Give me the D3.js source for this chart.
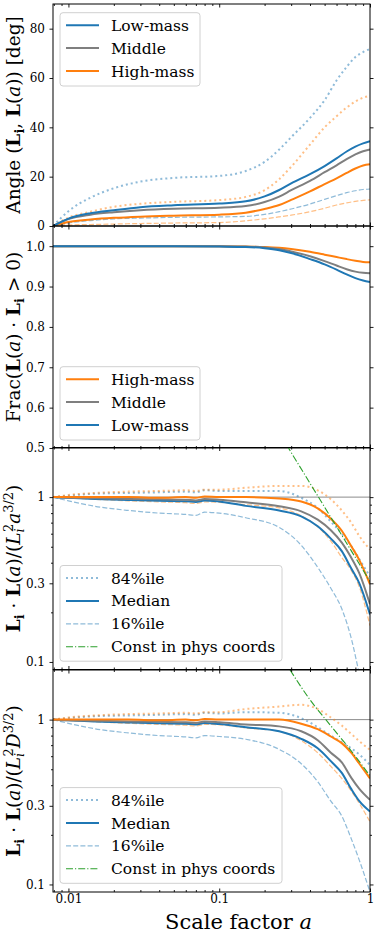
<!DOCTYPE html>
<html>
<head>
<meta charset="utf-8">
<script src="https://cdn.jsdelivr.net/npm/d3@7"></script>
<style>
body { margin: 0; background: #fff; }
text { font-family: "DejaVu Serif", serif; }
</style>
</head>
<body>
<script>
// ---- data ----
// panel 1: angle between L_i and L(a) [deg]
const angleA = [0.0079, 0.01, 0.014, 0.02, 0.03, 0.05, 0.1, 0.15, 0.2, 0.25, 0.3, 0.4, 0.5, 0.6, 0.7, 0.8, 0.9, 1];
const angleLow = [0, 3, 5.2, 6.4, 7.6, 8.4, 9.1, 10, 12, 14.6, 17.3, 21, 24.3, 27.4, 30.2, 32.2, 33.5, 34.4];
const angleMid = [0, 2.8, 4.6, 5.6, 6.4, 7, 7.4, 8.1, 9.7, 11.9, 14.5, 18.3, 21.8, 24.6, 27.1, 29, 30.3, 31];
const angleHigh = [0, 1.6, 2.6, 3.3, 3.8, 4.2, 4.6, 5.4, 6.9, 8.5, 10.6, 14, 17, 19.3, 21.5, 23.3, 24.5, 25];
const angleLow84 = [0, 6, 11.5, 15.3, 18, 19.5, 20.3, 22.3, 26, 31, 36, 43.8, 51, 59, 64.5, 68.5, 70.5, 71.8];
const angleHigh84 = [0, 3.4, 5.8, 7.8, 9, 9.8, 10.5, 11.8, 14.5, 19, 24, 33, 40, 44.5, 48, 50.5, 52, 52.8];
const angleLow16 = [0, 1.2, 2.2, 2.9, 3.2, 3.5, 3.7, 3.9, 4.7, 5.8, 6.9, 8.9, 10.8, 12.3, 13.5, 14.3, 14.8, 15];
const angleHigh16 = [0, 0.4, 0.6, 0.8, 1.0, 1.2, 1.4, 2.1, 2.9, 3.7, 4.4, 5.8, 7.2, 8.5, 9.4, 10.0, 10.4, 10.6];

// panel 2: fraction with positive projection
const fracA = [0.0079, 0.05, 0.1, 0.15, 0.2, 0.25, 0.3, 0.4, 0.5, 0.6, 0.7, 0.8, 0.9, 1];
const fracLow = [1, 1, 0.999, 0.998, 0.995, 0.99, 0.983, 0.968, 0.955, 0.942, 0.93, 0.921, 0.915, 0.911];
const fracMid = [1, 1, 1, 0.999, 0.997, 0.993, 0.987, 0.975, 0.963, 0.952, 0.943, 0.937, 0.934, 0.933];
const fracHigh = [1, 1, 1, 0.999, 0.998, 0.996, 0.993, 0.986, 0.979, 0.973, 0.968, 0.964, 0.961, 0.96];

// panels 3 and 4: normalised projection
const projA = [0.0079, 0.01, 0.015, 0.025, 0.04, 0.06, 0.07, 0.08, 0.1, 0.15, 0.25, 0.35, 0.45, 0.55, 0.65, 0.75, 0.85, 1];
const physLow = [1, 0.99, 0.975, 0.96, 0.95, 0.945, 0.935, 0.955, 0.94, 0.885, 0.83, 0.765, 0.665, 0.56, 0.47, 0.37, 0.3, 0.194];
const physMid = [1, 0.99, 0.985, 0.975, 0.97, 0.965, 0.955, 0.975, 0.965, 0.93, 0.88, 0.82, 0.73, 0.63, 0.53, 0.43, 0.345, 0.224];
const physHigh = [1, 1.0, 1.0, 1.0, 0.99, 1.0, 0.99, 1.01, 1.0, 1.0, 0.98, 0.94, 0.855, 0.74, 0.625, 0.505, 0.415, 0.296];
const physLow84 = [1, 1.02, 1.05, 1.06, 1.07, 1.08, 1.07, 1.1, 1.09, 1.09, 1.09, 0.99, 0.86, 0.71, 0.6, 0.505, 0.42, 0.33];
const physHigh84 = [1, 1.03, 1.06, 1.08, 1.09, 1.1, 1.09, 1.11, 1.11, 1.14, 1.17, 1.17, 1.1, 0.97, 0.83, 0.7, 0.58, 0.48];
const physLow16 = [1, 0.95, 0.88, 0.83, 0.8, 0.785, 0.775, 0.81, 0.8, 0.75, 0.655, 0.51, 0.375, 0.28, 0.21, 0.14, 0.085, 0.05];
const physHigh16 = [1, 0.99, 0.97, 0.95, 0.935, 0.925, 0.915, 0.935, 0.93, 0.9, 0.86, 0.77, 0.66, 0.54, 0.43, 0.36, 0.285, 0.166];
const physConstA = [0.28, 1];
const physConst = [2.07, 0.308];

const comovLow = [1, 0.99, 0.975, 0.96, 0.95, 0.945, 0.935, 0.955, 0.94, 0.9, 0.85, 0.765, 0.67, 0.56, 0.475, 0.38, 0.32, 0.277];
const comovMid = [1, 0.99, 0.985, 0.975, 0.97, 0.965, 0.955, 0.975, 0.965, 0.935, 0.91, 0.85, 0.75, 0.63, 0.55, 0.445, 0.38, 0.326];
const comovHigh = [1, 1.0, 1.0, 1.0, 0.99, 1.0, 0.99, 1.01, 1.0, 1.0, 1.0, 0.945, 0.875, 0.79, 0.72, 0.63, 0.54, 0.44];
const comovLow84 = [1, 1.02, 1.05, 1.06, 1.07, 1.08, 1.07, 1.1, 1.09, 1.11, 1.1, 1.02, 0.9, 0.8, 0.73, 0.67, 0.615, 0.53];
const comovHigh84 = [1, 1.03, 1.06, 1.08, 1.09, 1.1, 1.09, 1.11, 1.11, 1.16, 1.2, 1.23, 1.16, 1.03, 0.92, 0.82, 0.74, 0.655];
const comovLow16 = [1, 0.95, 0.88, 0.83, 0.8, 0.785, 0.775, 0.8, 0.79, 0.76, 0.66, 0.54, 0.42, 0.32, 0.26, 0.19, 0.14, 0.09];
const comovHigh16 = [1, 0.99, 0.97, 0.95, 0.935, 0.925, 0.915, 0.935, 0.93, 0.89, 0.85, 0.745, 0.63, 0.52, 0.44, 0.37, 0.31, 0.24];
const comovConstA = [0.295, 0.4, 0.543, 0.737, 1];
const comovConst = [2.0, 1.32, 0.93, 0.66, 0.456];

const xMajor = [0.01, 0.1, 1];
const xTickLabels = ["0.01", "0.1", "1"];
const angleTicks = [0, 20, 40, 60, 80];
const fracTicks = [0.5, 0.6, 0.7, 0.8, 0.9, 1.0];
const projTicks = [0.1, 0.3, 1];
const projTickLabels = ["0.1", "0.3", "1"];

// ---- layout ----
const W = 374, H = 934;
const left = 53, right = 370;
const tops = [4, 226, 447.5, 670];
const ph = 222;
const blue = "#1f77b4", orange = "#ff7f0e", gray = "#7f7f7f", green = "#2ca02c";

const svg = d3.select("body").append("svg").attr("width", W).attr("height", H);

const x = d3.scaleLog().domain([0.0079, 1]).range([left, right]);
const xMinor = [];
[0.001, 0.01, 0.1].forEach(d => { for (let k = 2; k <= 9; k++) xMinor.push(d * k); });
const xMinorIn = xMinor.filter(v => v >= 0.0079 && v <= 1);

const line = (y, xs, ys) => d3.line()
    .x(d => x(d[0]))
    .y(d => y(d[1]))
    .curve(d3.curveMonotoneX)(xs.map((v, i) => [v, ys[i]]));

const styles = {
    med: { w: 2, dash: null, op: 1 },
    p84: { w: 2, dash: "2,3", op: 0.5 },
    p16: { w: 1.2, dash: "5,2.2", op: 0.5 },
    phys: { w: 1.1, dash: "7,2,1.2,2", op: 1 }
};

function panel(i, y, yMajor, yLabels, yMinor) {
    const top = tops[i];
    const g = svg.append("g");
    g.append("clipPath").attr("id", "clip" + i)
        .append("rect").attr("x", left).attr("y", top).attr("width", right - left).attr("height", ph);
    const plot = g.append("g").attr("clip-path", "url(#clip" + i + ")");

    // x ticks, pointing in, top and bottom
    const bottom = top + ph;
    const xb = d3.axisBottom(x).tickValues(xMajor).tickSizeInner(-3.5).tickSizeOuter(0).tickPadding(2)
        .tickFormat((d, j) => i === 3 ? xTickLabels[j] : "");
    const xbm = d3.axisBottom(x).tickValues(xMinorIn).tickSizeInner(-2).tickSizeOuter(0).tickFormat("");
    const xt = d3.axisTop(x).tickValues(xMajor).tickSizeInner(-3.5).tickSizeOuter(0).tickFormat("");
    const xtm = d3.axisTop(x).tickValues(xMinorIn).tickSizeInner(-2).tickSizeOuter(0).tickFormat("");
    [[xb, bottom], [xbm, bottom], [xt, top], [xtm, top]].forEach(([ax, yy]) => {
        g.append("g").attr("class", "axis").attr("transform", `translate(0,${yy})`).call(ax);
    });

    // y ticks, pointing out, left and right
    const yl = d3.axisLeft(y).tickValues(yMajor).tickSizeInner(3.5).tickSizeOuter(0).tickPadding(4.5)
        .tickFormat((d, j) => yLabels[j]);
    const yr = d3.axisRight(y).tickValues(yMajor).tickSizeInner(3.5).tickSizeOuter(0).tickFormat("");
    g.append("g").attr("class", "axis").attr("transform", `translate(${left},0)`).call(yl);
    g.append("g").attr("class", "axis").attr("transform", `translate(${right},0)`).call(yr);
    if (yMinor) {
        g.append("g").attr("class", "axis").attr("transform", `translate(${left},0)`)
            .call(d3.axisLeft(y).tickValues(yMinor).tickSizeInner(2).tickSizeOuter(0).tickFormat(""));
        g.append("g").attr("class", "axis").attr("transform", `translate(${right},0)`)
            .call(d3.axisRight(y).tickValues(yMinor).tickSizeInner(2).tickSizeOuter(0).tickFormat(""));
    }

    g.append("rect").attr("x", left).attr("y", top).attr("width", right - left).attr("height", ph)
        .attr("fill", "none").attr("stroke", "#000").attr("stroke-width", 1);

    return { plot, g, top, bottom };
}

function addLine(plot, y, xs, ys, color, st) {
    plot.append("path")
        .attr("d", line(y, xs, ys))
        .attr("fill", "none")
        .attr("stroke", color)
        .attr("stroke-width", st.w)
        .attr("stroke-dasharray", st.dash)
        .attr("stroke-opacity", st.op);
}

function legend(x0, y0, w, h, items) {
    const g = svg.append("g");
    g.append("rect").attr("x", x0).attr("y", y0).attr("width", w).attr("height", h)
        .attr("rx", 3).attr("fill", "#fff").attr("fill-opacity", 0.8)
        .attr("stroke", "#d0d0d0").attr("stroke-width", 1);
    items.forEach((it, k) => {
        const cy = y0 + 12.5 + k * 22.9;
        g.append("line").attr("x1", x0 + 6).attr("x2", x0 + 39).attr("y1", cy).attr("y2", cy)
            .attr("stroke", it.color).attr("stroke-width", it.st.w)
            .attr("stroke-dasharray", it.st.dash).attr("stroke-opacity", it.st.op);
        g.append("text").attr("x", x0 + 51).attr("y", cy + 5.5)
            .attr("font-size", 15.5).attr("fill", "#000").text(it.label);
    });
}

// math-ish label: parts are [text, flags] with b=bold, i=italic, _=sub, ^=sup, s=stack over previous sub
function mathLabel(cx, cy, parts, fs) {
    const t = svg.append("text")
        .attr("transform", `translate(${cx},${cy}) rotate(-90)`)
        .attr("text-anchor", "middle").attr("font-size", fs).attr("fill", "#000");
    let shift = 0;
    parts.forEach(([str, f = ""]) => {
        let target = 0, size = fs, dx = 0;
        if (f.includes("_")) { target = fs * 0.22; size = fs * 0.7; }
        if (f.includes("^")) { target = -fs * 0.38; size = fs * 0.7; }
        if (f.includes("s")) dx = -fs * 0.2;
        const sp = t.append("tspan").attr("font-size", size).attr("dy", target - shift).text(str);
        if (dx) sp.attr("dx", dx);
        if (f.includes("b")) sp.attr("font-weight", "bold");
        if (f.includes("i")) sp.attr("font-style", "italic");
        shift = target;
    });
    return t;
}

// ---- panel 1 ----
const y1 = d3.scaleLinear().domain([0, 90]).range([tops[0] + ph, tops[0]]);
const p1 = panel(0, y1, angleTicks, angleTicks.map(String));
addLine(p1.plot, y1, angleA, angleLow84, blue, styles.p84);
addLine(p1.plot, y1, angleA, angleHigh84, orange, styles.p84);
addLine(p1.plot, y1, angleA, angleLow16, blue, styles.p16);
addLine(p1.plot, y1, angleA, angleHigh16, orange, styles.p16);
addLine(p1.plot, y1, angleA, angleHigh, orange, styles.med);
addLine(p1.plot, y1, angleA, angleMid, gray, styles.med);
addLine(p1.plot, y1, angleA, angleLow, blue, styles.med);

// ---- panel 2 ----
const y2 = d3.scaleLinear().domain([0.5, 1.05]).range([tops[1] + ph, tops[1]]);
const p2 = panel(1, y2, fracTicks, fracTicks.map(d => d.toFixed(1)));
addLine(p2.plot, y2, fracA, fracHigh, orange, styles.med);
addLine(p2.plot, y2, fracA, fracMid, gray, styles.med);
addLine(p2.plot, y2, fracA, fracLow, blue, styles.med);

// ---- panels 3 and 4 ----
const projMinor = [0.2, 0.4, 0.5, 0.6, 0.7, 0.8, 0.9];
function projPanel(i, s) {
    const y = d3.scaleLog().domain([0.09, 2]).range([tops[i] + ph, tops[i]]);
    const p = panel(i, y, projTicks, projTickLabels, projMinor);
    p.plot.append("line").attr("x1", left).attr("x2", right).attr("y1", y(1)).attr("y2", y(1))
        .attr("stroke", "#8c8c8c").attr("stroke-width", 1);
    addLine(p.plot, y, projA, s.low84, blue, styles.p84);
    addLine(p.plot, y, projA, s.high84, orange, styles.p84);
    addLine(p.plot, y, projA, s.low16, blue, styles.p16);
    addLine(p.plot, y, projA, s.high16, orange, styles.p16);
    addLine(p.plot, y, projA, s.low, blue, styles.med);
    addLine(p.plot, y, projA, s.mid, gray, styles.med);
    addLine(p.plot, y, projA, s.high, orange, styles.med);
    addLine(p.plot, y, s.constA, s.cons, green, styles.phys);
    return p;
}
projPanel(2, { low: physLow, mid: physMid, high: physHigh, low84: physLow84, high84: physHigh84,
    low16: physLow16, high16: physHigh16, constA: physConstA, cons: physConst });
projPanel(3, { low: comovLow, mid: comovMid, high: comovHigh, low84: comovLow84, high84: comovHigh84,
    low16: comovLow16, high16: comovHigh16, constA: comovConstA, cons: comovConst });

// axis text styling
svg.selectAll(".axis path.domain").remove();
svg.selectAll(".axis line").attr("stroke", "#000").attr("stroke-width", 0.9);
svg.selectAll(".axis text").attr("font-family", "DejaVu Serif").attr("font-size", 12).attr("fill", "#000");

// ---- legends ----
const massItems = [
    { label: "Low-mass", color: blue, st: styles.med },
    { label: "Middle", color: gray, st: styles.med },
    { label: "High-mass", color: orange, st: styles.med }
];
legend(60, tops[0] + 8.7, 140, 73.3, massItems);
legend(60, tops[1] + ph - 8 - 73.3, 140, 73.3, massItems.slice().reverse());
const pctItems = [
    { label: "84%ile", color: blue, st: styles.p84 },
    { label: "Median", color: blue, st: styles.med },
    { label: "16%ile", color: blue, st: styles.p16 },
    { label: "Const in phys coords", color: green, st: styles.phys }
];
legend(60, tops[2] + ph - 8.3 - 95.7, 222, 95.7, pctItems);
legend(60, tops[3] + ph - 8.7 - 95.7, 222, 95.7, pctItems);

// ---- axis labels ----
const fsLab = 18.5;
mathLabel(20, tops[0] + ph / 2, [["Angle ("], ["L", "b"], ["i", "b_"], [", "], ["L", "b"], ["("], ["a", "i"], [")) [deg]"]], fsLab);
mathLabel(20, tops[1] + ph / 2, [["Frac("], ["L", "b"], ["("], ["a", "i"], [") · "], ["L", "b"], ["i", "b_"], [" > 0)"]], fsLab);
mathLabel(20, tops[2] + ph / 2, [["L", "b"], ["i", "b_"], [" · "], ["L", "b"], ["("], ["a", "i"], [")/("], ["L", "i"], ["i", "i_"], ["2", "^s"], ["a", "i"], ["3/2", "^"], [")"]], fsLab);
mathLabel(20, tops[3] + ph / 2, [["L", "b"], ["i", "b_"], [" · "], ["L", "b"], ["("], ["a", "i"], [")/("], ["L", "i"], ["i", "i_"], ["2", "^s"], ["D", "i"], ["3/2", "^"], [")"]], fsLab);

const xl = svg.append("text").attr("x", 238.5).attr("y", 929)
    .attr("text-anchor", "middle").attr("font-size", 21).attr("fill", "#000");
xl.append("tspan").text("Scale factor ");
xl.append("tspan").attr("font-style", "italic").text("a");
</script>
</body>
</html>
